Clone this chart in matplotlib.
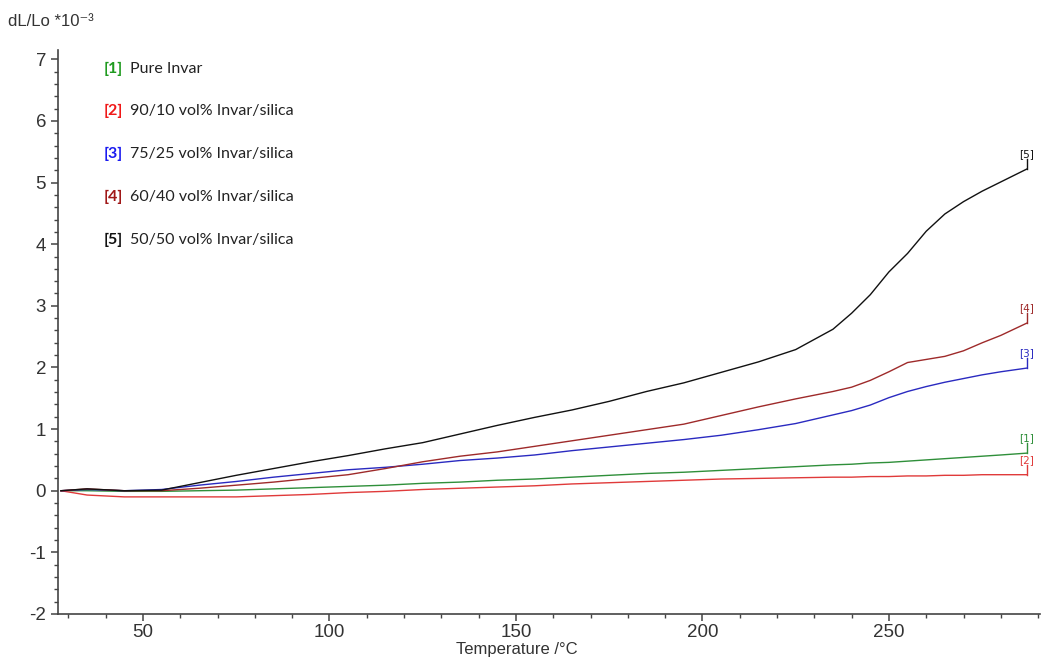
import matplotlib.pyplot as plt
from matplotlib.ticker import MultipleLocator

plt.rcParams['axes.unicode_minus'] = False

# temperatures (degC) where the curves were read
temp = [28, 35, 45, 55, 65, 75, 85, 95, 105, 115, 125, 135, 145, 155, 165, 175,
        185, 195, 205, 215, 225, 235, 240, 245, 250, 255, 260, 265, 270, 275, 280, 287]

# dL/Lo * 10^-3 for each sample
pure_invar = [0.0, 0.0, -0.01, -0.01, 0.0, 0.01, 0.03, 0.05, 0.07, 0.09, 0.12, 0.14, 0.17, 0.19, 0.22, 0.25,
              0.28, 0.30, 0.33, 0.36, 0.39, 0.42, 0.43, 0.45, 0.46, 0.48, 0.50, 0.52, 0.54, 0.56, 0.58, 0.61]
inv_90_10 = [0.0, -0.07, -0.10, -0.10, -0.10, -0.10, -0.08, -0.06, -0.03, -0.01, 0.02, 0.04, 0.06, 0.08, 0.11, 0.13,
             0.15, 0.17, 0.19, 0.20, 0.21, 0.22, 0.22, 0.23, 0.23, 0.24, 0.24, 0.25, 0.25, 0.26, 0.26, 0.26]
inv_75_25 = [0.0, 0.02, 0.0, 0.02, 0.09, 0.15, 0.22, 0.28, 0.34, 0.38, 0.43, 0.49, 0.53, 0.58, 0.65, 0.71,
             0.77, 0.83, 0.90, 0.99, 1.09, 1.23, 1.30, 1.39, 1.51, 1.61, 1.69, 1.76, 1.82, 1.88, 1.93, 1.99]
inv_60_40 = [0.0, 0.03, 0.0, 0.0, 0.04, 0.09, 0.14, 0.20, 0.26, 0.36, 0.47, 0.56, 0.63, 0.72, 0.81, 0.90,
             0.99, 1.08, 1.22, 1.36, 1.49, 1.61, 1.68, 1.79, 1.93, 2.08, 2.13, 2.18, 2.27, 2.40, 2.52, 2.72]
inv_50_50 = [0.0, 0.03, 0.0, 0.01, 0.13, 0.25, 0.36, 0.47, 0.57, 0.68, 0.78, 0.92, 1.06, 1.19, 1.31, 1.45,
             1.61, 1.75, 1.92, 2.09, 2.29, 2.62, 2.88, 3.18, 3.55, 3.85, 4.21, 4.49, 4.69, 4.86, 5.01, 5.22]

series = [pure_invar, inv_90_10, inv_75_25, inv_60_40, inv_50_50]
tags = ['[1]', '[2]', '[3]', '[4]', '[5]']
names = ['Pure Invar', '90/10 vol% Invar/silica', '75/25 vol% Invar/silica',
         '60/40 vol% Invar/silica', '50/50 vol% Invar/silica']
colors = ['#2f8f3a', '#e03a3a', '#2a2ac0', '#9e2a2a', '#111111']
tag_colors = ['#1f9a1f', '#f01818', '#1a1af0', '#a01818', '#111111']

fig = plt.figure(figsize=(10.41, 6.60), dpi=100)
ax = fig.add_axes([0.0557, 0.0697, 0.9433, 0.8545])

for vals, tag, col in zip(series, tags, colors):
    ax.plot(temp, vals, color=col, lw=1.0)
    # end marker: short vertical stub with the curve number above it
    ax.plot([temp[-1], temp[-1]], [vals[-1], vals[-1] + 0.16], color=col, lw=1.0)
    ax.text(temp[-1], vals[-1] + 0.16, tag, color=col, fontsize=7.5,
            ha='center', va='bottom', family='DejaVu Sans')

ax.set_xlim(27.2, 290.5)
ax.set_ylim(-2, 7.15)
ax.xaxis.set_major_locator(MultipleLocator(50))
ax.xaxis.set_minor_locator(MultipleLocator(10))
ax.yaxis.set_major_locator(MultipleLocator(1))
ax.yaxis.set_minor_locator(MultipleLocator(0.2))

for s in ['top', 'right']:
    ax.spines[s].set_visible(False)
for s in ['left', 'bottom']:
    ax.spines[s].set_color('#444444')
    ax.spines[s].set_linewidth(1.2)

ax.tick_params(which='major', length=5, width=1.1, color='#444444',
               labelsize=13.5, labelcolor='#333333')
ax.tick_params(axis='x', which='major', pad=2)
ax.tick_params(which='minor', length=3, width=1.0, color='#444444')
for lab in ax.get_xticklabels() + ax.get_yticklabels():
    lab.set_family('Liberation Sans')

ax.set_xlabel('Temperature /°C', fontsize=12, color='#333333', family='Liberation Sans')
ax.xaxis.set_label_coords(0.467, -0.049)

fig.text(0.008, 0.968, 'dL/Lo *10⁻³', fontsize=12, color='#333333',
         family=['Liberation Sans', 'DejaVu Sans'], va='center')

# legend written as text lines
ys = [0.8955, 0.8318, 0.7667, 0.7015, 0.6364]
for tag, name, col, y in zip(tags, names, tag_colors, ys):
    fig.text(0.0999, y, tag, color=col, fontsize=11.5, family='Lato', weight='bold', va='center')
    fig.text(0.1249, y, name, color='#222222', fontsize=11.5, family='Lato', va='center')

fig.savefig('out.png', dpi=100)
